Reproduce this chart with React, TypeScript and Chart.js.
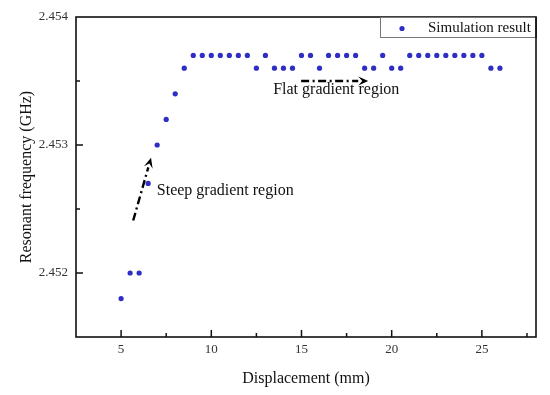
import { useEffect, useRef } from 'react';
import { Chart, registerables } from 'chart.js';

Chart.register(...registerables);

const displacement = [
  5, 5.5, 6, 6.5, 7, 7.5, 8, 8.5, 9, 9.5, 10, 10.5, 11, 11.5, 12, 12.5, 13, 13.5, 14, 14.5,
  15, 15.5, 16, 16.5, 17, 17.5, 18, 18.5, 19, 19.5, 20, 20.5, 21, 21.5, 22, 22.5, 23, 23.5,
  24, 24.5, 25, 25.5, 26,
];
const frequency = [
  2.4518, 2.452, 2.452, 2.4527, 2.453, 2.4532, 2.4534, 2.4536, 2.4537, 2.4537, 2.4537, 2.4537,
  2.4537, 2.4537, 2.4537, 2.4536, 2.4537, 2.4536, 2.4536, 2.4536, 2.4537, 2.4537, 2.4536,
  2.4537, 2.4537, 2.4537, 2.4537, 2.4536, 2.4536, 2.4537, 2.4536, 2.4536, 2.4537, 2.4537,
  2.4537, 2.4537, 2.4537, 2.4537, 2.4537, 2.4537, 2.4537, 2.4536, 2.4536,
];
const seriesLabel = 'Simulation result';
const xTitle = 'Displacement (mm)';
const yTitle = 'Resonant frequency (GHz)';

const steepArrow = { from: [5.67, 2.45241], to: [6.66, 2.4529] };
const steepLabel = { text: 'Steep gradient region', at: [6.98, 2.45264] };
const flatArrow = { from: [14.98, 2.4535], to: [18.7, 2.4535] };
const flatLabel = { text: 'Flat gradient region', at: [13.43, 2.45343] };

const SERIF = '"Liberation Serif", "Times New Roman", serif';
const POINT_COLOR = '#2e2ec4';

const decorPlugin = {
  id: 'decor',
  afterDraw(chart: any) {
    const { ctx, chartArea: a, scales } = chart;
    const xs = scales.x;
    const ys = scales.y;
    ctx.save();
    // inward tick marks
    ctx.strokeStyle = '#111';
    ctx.lineWidth = 1.5;
    xs.ticks.forEach((t: any) => {
      const px = xs.getPixelForValue(t.value);
      if (px <= a.left + 1 || px >= a.right - 1) return;
      const major = Math.abs(t.value / 5 - Math.round(t.value / 5)) < 1e-6;
      const len = major ? 7 : 4;
      ctx.beginPath();
      ctx.moveTo(px, a.bottom);
      ctx.lineTo(px, a.bottom - len);
      ctx.stroke();
    });
    ys.ticks.forEach((t: any) => {
      const py = ys.getPixelForValue(t.value);
      if (py <= a.top + 1 || py >= a.bottom - 1) return;
      const major = Math.round(t.value * 10000) % 10 === 0;
      const len = major ? 7 : 4;
      ctx.beginPath();
      ctx.moveTo(a.left, py);
      ctx.lineTo(a.left + len, py);
      ctx.stroke();
    });
    // frame
    ctx.strokeStyle = '#111';
    ctx.lineWidth = 1.6;
    ctx.strokeRect(a.left, a.top, a.right - a.left, a.bottom - a.top);

    // arrows
    const drawArrow = (arr: any) => {
      const x1 = xs.getPixelForValue(arr.from[0]);
      const y1 = ys.getPixelForValue(arr.from[1]);
      const x2 = xs.getPixelForValue(arr.to[0]);
      const y2 = ys.getPixelForValue(arr.to[1]);
      const ang = Math.atan2(y2 - y1, x2 - x1);
      const headLen = 10;
      const bx = x2 - headLen * Math.cos(ang);
      const by = y2 - headLen * Math.sin(ang);
      ctx.strokeStyle = '#000';
      ctx.lineWidth = 2.4;
      ctx.setLineDash([8, 3.5, 2, 3.5]);
      ctx.beginPath();
      ctx.moveTo(x1, y1);
      ctx.lineTo(bx, by);
      ctx.stroke();
      ctx.setLineDash([]);
      ctx.fillStyle = '#000';
      ctx.beginPath();
      ctx.moveTo(x2, y2);
      ctx.lineTo(bx + 4.5 * Math.cos(ang + Math.PI / 2), by + 4.5 * Math.sin(ang + Math.PI / 2));
      ctx.lineTo(x2 - headLen * 0.6 * Math.cos(ang), y2 - headLen * 0.6 * Math.sin(ang));
      ctx.lineTo(bx + 4.5 * Math.cos(ang - Math.PI / 2), by + 4.5 * Math.sin(ang - Math.PI / 2));
      ctx.closePath();
      ctx.fill();
    };
    drawArrow(steepArrow);
    drawArrow(flatArrow);

    ctx.fillStyle = '#111';
    ctx.font = `16px ${SERIF}`;
    ctx.textAlign = 'left';
    ctx.textBaseline = 'middle';
    [steepLabel, flatLabel].forEach((l) => {
      ctx.fillText(l.text, xs.getPixelForValue(l.at[0]), ys.getPixelForValue(l.at[1]));
    });

    // legend
    const lx = 380;
    const ly = a.top;
    const lw = a.right - lx;
    const lh = 21;
    ctx.fillStyle = '#fff';
    ctx.fillRect(lx, ly, lw, lh);
    ctx.strokeStyle = '#777';
    ctx.lineWidth = 1;
    ctx.strokeRect(lx + 0.5, ly + 0.5, lw - 1, lh - 1);
    ctx.strokeStyle = '#111';
    ctx.lineWidth = 1.6;
    ctx.beginPath();
    ctx.moveTo(a.right, ly);
    ctx.lineTo(a.right, ly + lh);
    ctx.stroke();
    ctx.fillStyle = POINT_COLOR;
    ctx.beginPath();
    ctx.arc(lx + 22, ly + lh / 2 + 1, 2.6, 0, Math.PI * 2);
    ctx.fill();
    ctx.fillStyle = '#111';
    ctx.font = `15px ${SERIF}`;
    ctx.fillText(chart.data.datasets[0].label, lx + 48, ly + lh / 2 + 1);
    ctx.restore();
  },
};

export default function App() {
  const ref = useRef<HTMLCanvasElement | null>(null);
  useEffect(() => {
    document.body.style.margin = '0';
    const canvas = ref.current;
    if (!canvas) return;
    const chart = new Chart(canvas, {
      type: 'scatter',
      data: {
        datasets: [
          {
            label: seriesLabel,
            data: displacement.map((x, i) => ({ x, y: frequency[i] })),
            backgroundColor: POINT_COLOR,
            borderColor: POINT_COLOR,
            borderWidth: 0,
            pointRadius: 2.6,
          },
        ],
      },
      options: {
        animation: false,
        responsive: false,
        devicePixelRatio: 1,
        layout: { padding: { top: 17, right: 14, left: 0, bottom: 0 } },
        plugins: { legend: { display: false }, tooltip: { enabled: false } },
        scales: {
          x: {
            type: 'linear',
            min: 2.5,
            max: 28,
            afterFit: (s: any) => {
              s.height = 58;
            },
            afterBuildTicks: (s: any) => {
              const t = [];
              for (let v = 2.5; v <= 27.5 + 1e-9; v += 2.5) t.push({ value: v });
              s.ticks = t;
            },
            ticks: {
              autoSkip: false,
              maxRotation: 0,
              padding: 5,
              color: '#333',
              font: { family: SERIF, size: 13 },
              callback: (v: any) => {
                const n = Number(v);
                return Math.abs(n / 5 - Math.round(n / 5)) < 1e-6 ? String(n) : '';
              },
            },
            grid: { display: false, drawTicks: false },
            border: { display: false },
            title: {
              display: true,
              text: xTitle,
              color: '#111',
              font: { family: SERIF, size: 16 },
              padding: { top: 0, bottom: 7 },
            },
          },
          y: {
            type: 'linear',
            min: 2.4515,
            max: 2.454,
            afterFit: (s: any) => {
              s.width = 76;
            },
            afterBuildTicks: (s: any) => {
              const t = [];
              for (let k = 0; k <= 5; k++) t.push({ value: Number((2.4515 + k * 0.0005).toFixed(4)) });
              s.ticks = t;
            },
            ticks: {
              autoSkip: false,
              padding: 8,
              color: '#333',
              font: { family: SERIF, size: 13 },
              callback: (v: any) => {
                const n = Number(v);
                return Math.round(n * 10000) % 10 === 0 ? n.toFixed(3) : '';
              },
            },
            grid: { display: false, drawTicks: false },
            border: { display: false },
            title: {
              display: true,
              text: yTitle,
              color: '#111',
              font: { family: SERIF, size: 16 },
              padding: { top: 17, bottom: 0 },
            },
          },
        },
      },
      plugins: [decorPlugin],
    } as any);
    return () => chart.destroy();
  }, []);
  return (
    <div style={{ width: 550, height: 395 }}>
      <canvas ref={ref} width={550} height={395} style={{ display: 'block' }} />
    </div>
  );
}
